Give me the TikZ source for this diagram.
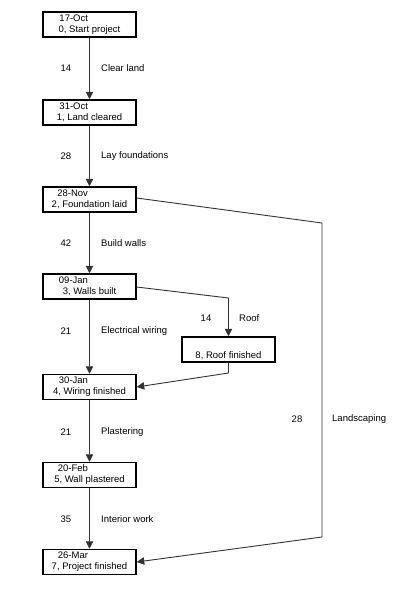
\documentclass[tikz,border=0pt]{standalone}
\usepackage{fontspec}
\setmainfont{Liberation Sans}
\usetikzlibrary{arrows.meta}
\begin{document}
\begin{tikzpicture}[x=1pt,y=-1pt,
  every node/.style={font=\fontsize{9.5}{11}\selectfont, inner sep=0pt},
  evbox/.style={draw, line width=1.5pt, minimum width=93pt, minimum height=25pt, align=center},
  conn/.style={draw=black!80, line width=0.9pt},
  arr/.style={conn, -{Triangle[length=7.5pt,width=7.5pt]}},
  dur/.style={anchor=center},
  act/.style={anchor=west}]
\fill[white] (0,0) rectangle (414,600);
\useasboundingbox (0,0) rectangle (414,600);

\node[evbox] (b0) at (89.5,24.5) {\llap{17-Oct\hspace{1.5pt}}\\0, Start project};
\node[evbox] (b1) at (89.5,112.5) {\llap{31-Oct\hspace{1.5pt}}\\1, Land cleared};
\node[evbox] (b2) at (89.5,199.5) {\llap{28-Nov\hspace{1.5pt}}\\2, Foundation laid};
\node[evbox] (b3) at (89.5,286.5) {\llap{09-Jan\hspace{1.5pt}}\\3, Walls built};
\node[evbox] (b8) at (228.5,349.5) {\strut\\8, Roof finished};
\node[evbox] (b4) at (89.5,387) {\llap{30-Jan\hspace{1.5pt}}\\4, Wiring finished};
\node[evbox] (b5) at (89.5,475) {\llap{20-Feb\hspace{1.5pt}}\\5, Wall plastered};
\node[evbox] (b7) at (89.5,562) {\llap{26-Mar\hspace{1.5pt}}\\7, Project finished};

\coordinate (l1) at (322,223);
\coordinate (l2) at (322,537);
\coordinate (r1) at (228.5,298);
\coordinate (r2) at (228.5,373);

\draw[arr] (b0.south) -- (b1.north);
\draw[arr] (b1.south) -- (b2.north);
\draw[arr] (b2.south) -- (b3.north);
\draw[arr] (b3.south) -- (b4.north);
\draw[arr] (b4.south) -- (b5.north);
\draw[arr] (b5.south) -- (b7.north);
\draw[arr] (b2.east |- 0,198) -- (l1) -- (l2) -- (b7.east);
\draw[arr] (b3.east |- 0,287) -- (r1) -- (b8.north);
\draw[arr] (b8.south) -- (r2) -- (b4.east);

\node[dur] (d1) at (66,68) {14};
\node[act] (a1) at (101,68) {Clear land};
\node[dur] (d2) at (66,156) {28};
\node[act] (a2) at (101,156) {Lay foundations};
\node[dur] (d3) at (66,243) {42};
\node[act] (a3) at (101,243) {Build walls};
\node[dur] (d4) at (66,331) {21};
\node[act] (a4) at (101,331) {Electrical wiring};
\node[dur] (d5) at (66,432) {21};
\node[act] (a5) at (101,432) {Plastering};
\node[dur] (d6) at (66,519) {35};
\node[act] (a6) at (101,519) {Interior work};
\node[dur] (d7) at (206,318) {14};
\node[act] (a7) at (239,318) {Roof};
\node[dur] (d8) at (297,419) {28};
\node[act] (a8) at (332,419) {Landscaping};
\end{tikzpicture}
\end{document}
